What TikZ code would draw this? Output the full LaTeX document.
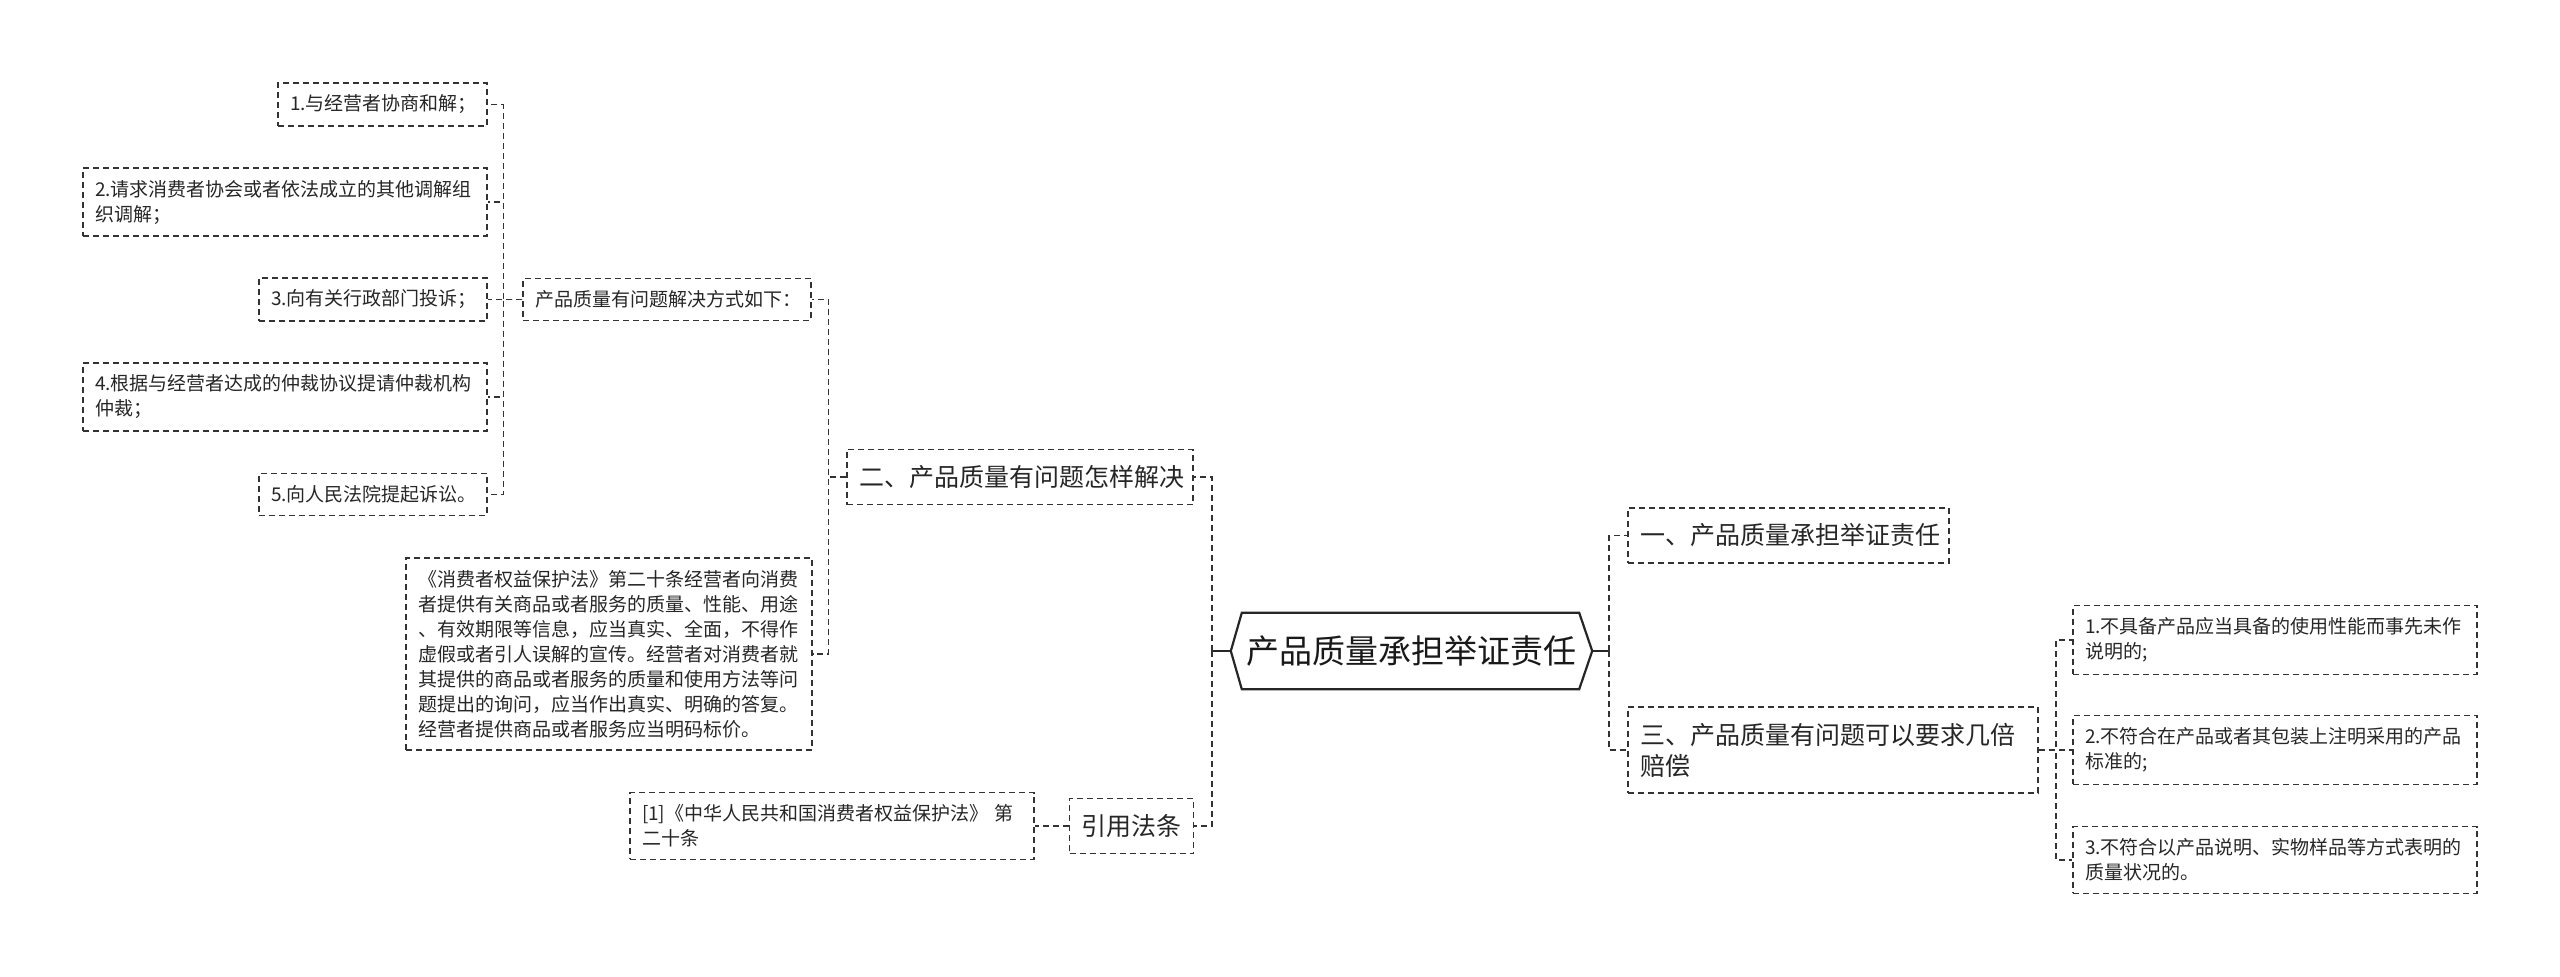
\documentclass[tikz,border=0pt]{standalone}
\usepackage{fontspec}
\setmainfont{Noto Sans CJK SC}
\begin{document}
\begin{tikzpicture}[x=1pt, y=-1pt,
  box/.style={draw=black!80, line width=1.5pt, dash pattern=on 6pt off 4pt, text=black!85,
    align=left, inner xsep=12pt, inner ysep=12pt, font=\fontsize{19}{25}\selectfont, text width=#1},
  topic/.style={box=#1, inner ysep=16pt, font=\fontsize{25}{31}\selectfont},
  link/.style={draw=black!80, line width=1.5pt, dash pattern=on 6pt off 4pt},
  stem/.style={draw=black!85, line width=2.2pt}
]
\useasboundingbox (0,0) rectangle (2560,977);

% root
\node[font=\fontsize{33}{40}\selectfont, text=black!90, minimum width=361pt, minimum height=76pt, inner sep=0pt] (root) at (1411.5,651) {产品质量承担举证责任};
\draw[line width=2.2pt, draw=black!85] (root.west) -- ([xshift=11pt]root.north west) -- ([xshift=-13pt]root.north east)
  -- (root.east) -- ([xshift=-13pt]root.south east) -- ([xshift=11pt]root.south west) -- cycle;

% left branch
\node[topic=322pt] (b2) at (1020,477) {二、产品质量有问题怎样解决};
\node[topic=100pt] (cite) at (1131.5,826) {引用法条};
\node[box=380pt] (ref) at (832,826) {[1]《中华人民共和国消费者权益保护法》 第\\二十条};
\node[box=264pt] (way) at (667,299.5) {产品质量有问题解决方式如下：};
\node[box=382pt] (law) at (609,654) {《消费者权益保护法》第二十条经营者向消费\\者提供有关商品或者服务的质量、性能、用途\\、有效期限等信息，应当真实、全面，不得作\\虚假或者引人误解的宣传。经营者对消费者就\\其提供的商品或者服务的质量和使用方法等问\\题提出的询问，应当作出真实、明确的答复。\\经营者提供商品或者服务应当明码标价。};
\node[box=185pt] (s1) at (382.5,104.5) {1.与经营者协商和解；};
\node[box=380pt] (s2) at (285,202) {2.请求消费者协会或者依法成立的其他调解组\\织调解；};
\node[box=204pt] (s3) at (373,299.5) {3.向有关行政部门投诉；};
\node[box=380pt] (s4) at (285,397) {4.根据与经营者达成的仲裁协议提请仲裁机构\\仲裁；};
\node[box=204pt] (s5) at (373,494.5) {5.向人民法院提起诉讼。};

% right branch
\node[topic=297pt] (b1) at (1788.5,535.5) {一、产品质量承担举证责任};
\node[topic=386pt] (b3) at (1833,750) {三、产品质量有问题可以要求几倍\\赔偿};
\node[box=380pt] (r1) at (2275,640) {1.不具备产品应当具备的使用性能而事先未作\\说明的;};
\node[box=380pt] (r2) at (2275,750) {2.不符合在产品或者其包装上注明采用的产品\\标准的;};
\node[box=380pt] (r3) at (2275,860) {3.不符合以产品说明、实物样品等方式表明的\\质量状况的。};

% connectors
\draw[stem] (root.west) -- ++(-19,0) coordinate (lt);
\draw[link] (lt) |- (b2.east);
\draw[link] (lt) |- (cite.east);
\draw[link] (cite.west) -- (ref.east);
\draw[link] (b2.west) -- ++(-18,0) |- (way.east);
\draw[link] (b2.west) -- ++(-18,0) |- (law.east);
\foreach \n in {s1,s2,s3,s4,s5}
  \draw[link] (way.west) -- ++(-19,0) |- (\n.east);

\draw[stem] (root.east) -- ++(17,0) coordinate (rt);
\draw[link] (rt) |- (b1.west);
\draw[link] (rt) |- (b3.west);
\foreach \n in {r1,r2,r3}
  \draw[link] (b3.east) -- ++(17,0) |- (\n.west);
\end{tikzpicture}
\end{document}
